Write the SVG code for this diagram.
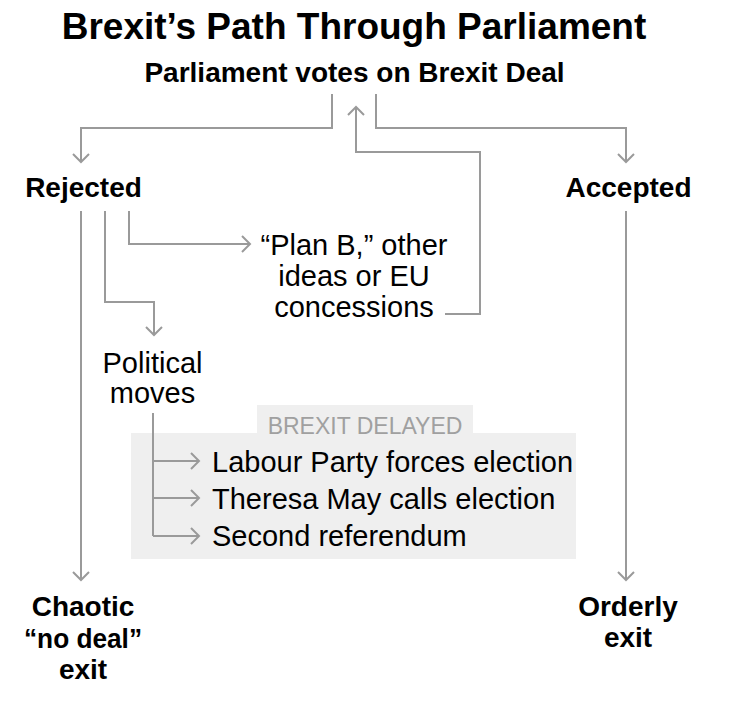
<svg xmlns="http://www.w3.org/2000/svg" width="731" height="714" viewBox="0 0 731 714">
<defs>
<marker id="ah" viewBox="-10 -10 20 20" markerWidth="20" markerHeight="20" refX="0" refY="0" orient="auto" markerUnits="userSpaceOnUse">
<path d="M-8,-8 L0,0 L-8,8" fill="none" stroke="#9a9a9a" stroke-width="2"/>
</marker>
</defs>
<style>
.b{font-family:"Liberation Sans",Arial,sans-serif;font-weight:bold;font-size:28px;fill:#000;text-anchor:middle}
.r{font-family:"Liberation Sans",Arial,sans-serif;font-size:29px;fill:#000}
.c{text-anchor:middle}
.ln{fill:none;stroke:#9a9a9a;stroke-width:2}
.ar{marker-end:url(#ah)}
</style>
<rect width="731" height="714" fill="#fff"/>
<g id="title"><text class="b" x="354" y="39" style="font-size:37px">Brexit’s Path Through Parliament</text></g>
<g id="vote"><text class="b" x="354.5" y="82">Parliament votes on Brexit Deal</text></g>
<g id="rejected"><text class="b" x="83.5" y="197">Rejected</text></g>
<g id="accepted"><text class="b" x="628.5" y="197">Accepted</text></g>
<g id="planb"><text class="r c" x="354" y="255">“Plan B,” other</text><text class="r c" x="354" y="286">ideas or EU</text><text class="r c" x="354" y="317">concessions</text></g>
<g id="political"><text class="r c" x="152.5" y="373">Political</text><text class="r c" x="152.5" y="403">moves</text></g>
<g id="delayed">
<rect x="257" y="405" width="216" height="30" fill="#efefef"/>
<rect x="131" y="433" width="445" height="126" fill="#efefef"/>
<text x="365" y="434" text-anchor="middle" font-family="Liberation Sans,Arial,sans-serif" font-size="23" fill="#a0a0a0">BREXIT DELAYED</text>
<text class="r" x="212" y="472">Labour Party forces election</text>
<text class="r" x="212" y="509">Theresa May calls election</text>
<text class="r" x="212" y="546">Second referendum</text>
</g>
<g id="nodeal"><text class="b" x="83" y="616">Chaotic</text><text class="b" x="83" y="648" textLength="118" lengthAdjust="spacingAndGlyphs">“no deal”</text><text class="b" x="83" y="679">exit</text></g>
<g id="orderly"><text class="b" x="628" y="616">Orderly</text><text class="b" x="628" y="647">exit</text></g>
<g id="connectors">
<path class="ln ar" d="M332,94 V128 H81 V162"/>
<path class="ln ar" d="M376,94 V128 H626 V162"/>
<path class="ln ar" d="M445,314 H480 V152 H356 V107"/>
<path class="ln ar" d="M81,211 V580"/>
<path class="ln ar" d="M626,211 V580"/>
<path class="ln ar" d="M129,211 V244 H250"/>
<path class="ln ar" d="M105,211 V302 H154 V335"/>
<path class="ln" d="M153,413 V536"/>
<path class="ln ar" d="M153,461 H199"/>
<path class="ln ar" d="M153,498 H199"/>
<path class="ln ar" d="M153,536 H199"/>
</g>
</svg>
